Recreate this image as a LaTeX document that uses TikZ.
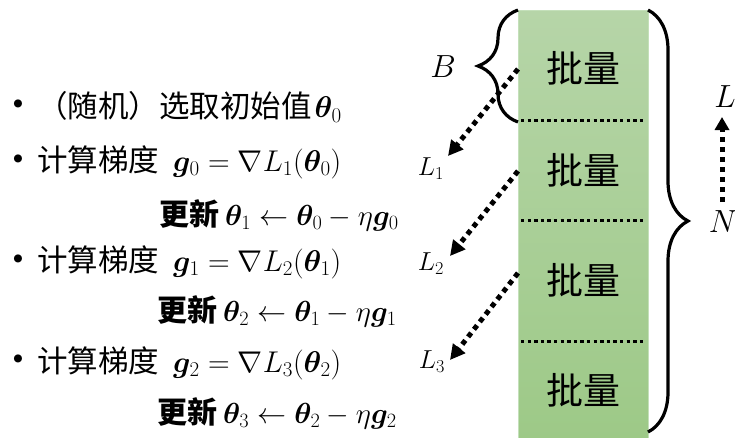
\RequirePackage{fix-cm}
\documentclass[tikz,border=0pt]{standalone}
\usepackage{amsmath,amssymb,bm}
\usepackage{fontspec}
\newfontfamily\cjk{Noto Sans CJK SC}
\usetikzlibrary{arrows.meta,decorations.pathreplacing}
\newcommand\zh[1]{{\fontsize{30.5}{34}\selectfont\cjk #1}}
\newcommand\zhb[1]{{\fontsize{30}{34}\selectfont\cjk\bfseries #1}}
\definecolor{gtop}{RGB}{182,213,168}
\definecolor{gbot}{RGB}{157,201,135}
\definecolor{gedge}{RGB}{196,224,186}
\begin{document}
\begin{tikzpicture}[x=1pt,y=-1pt,
  txt/.style={anchor=west,inner sep=0pt,font=\fontsize{30}{34}\selectfont},
  upd/.style={anchor=west,inner sep=0pt,font=\fontsize{29}{33}\selectfont},
  bul/.style={inner sep=0pt,font=\fontsize{36}{40}\selectfont},
  lab/.style={inner sep=0pt,font=\fontsize{26}{30}\selectfont},
  biglab/.style={inner sep=0pt,font=\fontsize{32}{36}\selectfont},
  batch/.style={inner sep=0pt,font=\fontsize{37}{42}\selectfont\cjk},
  sepline/.style={line width=3pt,dash pattern=on 3.3pt off 3.3pt},
  darr/.style={line width=5pt,dash pattern=on 5pt off 4.5pt,-{Triangle[length=15pt,width=15pt]}},
  brc/.style={line width=3.2pt,decorate,decoration={brace,amplitude=40pt}}]
\useasboundingbox (0,0) rectangle (735,437);
% green column
\shade[top color=gtop,bottom color=gbot] (518,10) rectangle (648,440);
\draw[gedge,line width=1pt] (518,440) -- (518,10) -- (648,10) -- (648,440);
\node[name=col,inner sep=0pt,minimum width=130pt,minimum height=427pt] at (583,223.5) {};
% separators
\draw[sepline] (521,120) -- (646,120);
\draw[sepline] (521,220) -- (646,220);
\draw[sepline] (521,341) -- (646,341);
% batch labels
\node[batch] (p1) at (583,68) {批量};
\node[batch] (p2) at (583,170) {批量};
\node[batch] (p3) at (583,280) {批量};
\node[batch] (p4) at (583,390) {批量};
% braces
\coordinate (bb) at (518,122);
\coordinate (bt) at (518,10);
\draw[brc] (bb) -- (bt);
\coordinate (nt) at (648,10);
\coordinate (nb) at (648,432);
\draw[brc] (nt) -- (nb);
\node[biglab] (B) at (443,67) {$B$};
\node[biglab] (N) at (723,222) {$N$};
\node[biglab] (L) at (725,97) {$L$};
\coordinate (na) at (722,202);
\coordinate (la) at (722,117);
\draw[darr,line width=5pt,dash pattern=on 5pt off 5pt,-{Triangle[length=13pt,width=14pt]}] (na) -- (la);
% loss labels and arrows
\node[lab] (L1) at (431,169) {$L_1$};
\node[lab] (L2) at (431,264) {$L_2$};
\node[lab] (L3) at (432,362) {$L_3$};
\coordinate (s1) at (518,69);
\coordinate (e1) at (448,156);
\coordinate (s2) at (518,171);
\coordinate (e2) at (450,256);
\coordinate (s3) at (518,273);
\coordinate (e3) at (450,360);
\draw[darr] (s1) -- (e1);
\draw[darr] (s2) -- (e2);
\draw[darr] (s3) -- (e3);
% left text
\node[bul] (d1) at (18,107) {\textbullet};
\node[bul] (d2) at (18,162) {\textbullet};
\node[bul] (d4) at (18,262) {\textbullet};
\node[bul] (d6) at (18,362) {\textbullet};
\node[txt] (t1) at (37,107) {\zh{（随机）选取初始值}\hspace{3pt}$\bm\theta_0$};
\node[txt] (t2) at (37,162) {\zh{计算梯度}\hspace{14pt}$\bm g_0=\nabla L_1(\bm\theta_0)$};
\node[upd] (t3) at (159,215) {\zhb{更新}\hspace{6pt}$\bm\theta_1\leftarrow\bm\theta_0-\eta\bm g_0$};
\node[txt] (t4) at (37,262) {\zh{计算梯度}\hspace{14pt}$\bm g_1=\nabla L_2(\bm\theta_1)$};
\node[upd] (t5) at (157,311) {\zhb{更新}\hspace{6pt}$\bm\theta_2\leftarrow\bm\theta_1-\eta\bm g_1$};
\node[txt] (t6) at (37,363) {\zh{计算梯度}\hspace{14pt}$\bm g_2=\nabla L_3(\bm\theta_2)$};
\node[upd] (t7) at (157,413) {\zhb{更新}\hspace{6pt}$\bm\theta_3\leftarrow\bm\theta_2-\eta\bm g_2$};
\end{tikzpicture}
\end{document}
